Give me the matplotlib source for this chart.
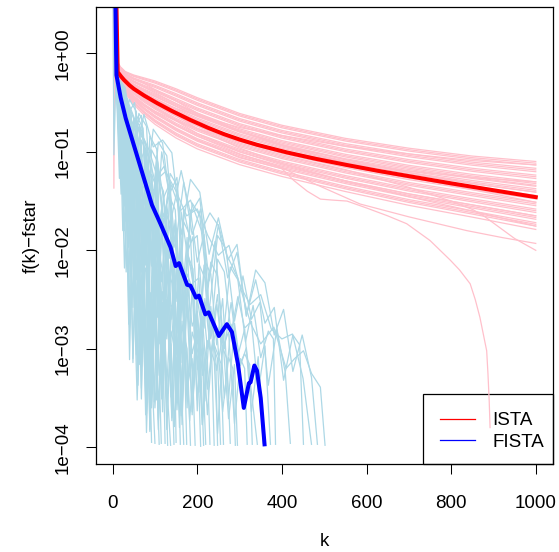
import matplotlib
matplotlib.use("Agg")
import matplotlib.pyplot as plt
from matplotlib.patches import Rectangle
from matplotlib.ticker import NullLocator, FixedLocator

plt.rcParams['font.family'] = ['Liberation Sans', 'DejaVu Sans']

# ---- data (values are log10 of f(k)-fstar) ----
ista_k = [0, 10, 18, 30, 50, 75, 100, 150, 200, 300, 400, 550, 700, 850, 1000]
ista_logf = [
    [2.5, -0.07, -0.135, -0.185, -0.22, -0.25, -0.28, -0.36, -0.45, -0.61, -0.73, -0.863, -0.963, -1.043, -1.098],
    [2.5, -0.075, -0.14, -0.19, -0.228, -0.26, -0.291, -0.373, -0.463, -0.623, -0.743, -0.877, -0.978, -1.059, -1.115],
    [2.5, -0.08, -0.145, -0.196, -0.235, -0.269, -0.302, -0.385, -0.476, -0.636, -0.756, -0.89, -0.992, -1.074, -1.133],
    [2.5, -0.09, -0.155, -0.207, -0.25, -0.288, -0.324, -0.41, -0.502, -0.662, -0.782, -0.917, -1.021, -1.105, -1.167],
    [2.5, -0.095, -0.16, -0.213, -0.258, -0.298, -0.335, -0.423, -0.515, -0.675, -0.795, -0.931, -1.036, -1.121, -1.184],
    [2.5, -0.10, -0.165, -0.218, -0.265, -0.307, -0.346, -0.435, -0.528, -0.688, -0.808, -0.944, -1.05, -1.136, -1.202],
    [2.5, -0.11, -0.175, -0.229, -0.28, -0.326, -0.368, -0.46, -0.554, -0.714, -0.834, -0.971, -1.079, -1.167, -1.236],
    [2.5, -0.115, -0.18, -0.235, -0.288, -0.336, -0.379, -0.473, -0.567, -0.727, -0.847, -0.985, -1.094, -1.183, -1.253],
    [2.5, -0.12, -0.185, -0.24, -0.295, -0.345, -0.39, -0.485, -0.58, -0.74, -0.86, -0.998, -1.108, -1.198, -1.271],
    [2.5, -0.13, -0.195, -0.251, -0.31, -0.364, -0.412, -0.51, -0.606, -0.766, -0.886, -1.025, -1.137, -1.229, -1.305],
    [2.5, -0.135, -0.20, -0.257, -0.318, -0.374, -0.423, -0.523, -0.619, -0.779, -0.899, -1.039, -1.152, -1.245, -1.322],
    [2.5, -0.14, -0.205, -0.262, -0.325, -0.383, -0.434, -0.535, -0.632, -0.792, -0.912, -1.052, -1.166, -1.26, -1.34],
    [2.5, -0.15, -0.215, -0.273, -0.34, -0.402, -0.456, -0.56, -0.658, -0.818, -0.938, -1.079, -1.195, -1.291, -1.374],
    [2.5, -0.155, -0.22, -0.279, -0.348, -0.412, -0.467, -0.573, -0.671, -0.831, -0.951, -1.093, -1.21, -1.307, -1.391],
    [2.5, -0.16, -0.225, -0.284, -0.355, -0.421, -0.478, -0.585, -0.684, -0.844, -0.964, -1.106, -1.224, -1.322, -1.409],
    [2.5, -0.17, -0.235, -0.295, -0.37, -0.44, -0.50, -0.61, -0.71, -0.87, -0.99, -1.133, -1.253, -1.353, -1.443],
    [2.5, -0.175, -0.24, -0.301, -0.378, -0.45, -0.511, -0.623, -0.723, -0.883, -1.003, -1.147, -1.268, -1.369, -1.46],
    [2.5, -0.18, -0.245, -0.306, -0.385, -0.459, -0.522, -0.635, -0.736, -0.896, -1.016, -1.16, -1.282, -1.384, -1.478],
    [2.5, -0.19, -0.255, -0.317, -0.40, -0.478, -0.544, -0.66, -0.762, -0.922, -1.042, -1.187, -1.311, -1.415, -1.512],
    [2.5, -0.195, -0.26, -0.323, -0.408, -0.488, -0.555, -0.673, -0.775, -0.935, -1.055, -1.201, -1.326, -1.431, -1.529],
    [2.5, -0.20, -0.265, -0.328, -0.415, -0.497, -0.566, -0.685, -0.788, -0.948, -1.068, -1.214, -1.34, -1.446, -1.547],
    [2.5, -0.21, -0.275, -0.339, -0.43, -0.516, -0.588, -0.71, -0.814, -0.974, -1.094, -1.241, -1.369, -1.477, -1.581],
    [2.5, -0.215, -0.28, -0.345, -0.438, -0.526, -0.599, -0.723, -0.827, -0.987, -1.107, -1.255, -1.384, -1.493, -1.598],
    [2.5, -0.22, -0.285, -0.35, -0.445, -0.535, -0.61, -0.735, -0.84, -1.00, -1.12, -1.268, -1.398, -1.508, -1.616],
    [2.5, -0.23, -0.295, -0.361, -0.46, -0.554, -0.632, -0.76, -0.866, -1.026, -1.146, -1.295, -1.427, -1.539, -1.65],
    [2.5, -0.235, -0.30, -0.367, -0.468, -0.564, -0.643, -0.773, -0.879, -1.039, -1.159, -1.309, -1.442, -1.555, -1.667],
    [2.5, -0.24, -0.305, -0.372, -0.475, -0.573, -0.654, -0.785, -0.892, -1.052, -1.172, -1.322, -1.456, -1.57, -1.685],
    [2.5, -0.25, -0.315, -0.383, -0.49, -0.592, -0.676, -0.81, -0.918, -1.078, -1.198, -1.349, -1.485, -1.601, -1.719],
    [2.5, -0.255, -0.32, -0.389, -0.498, -0.602, -0.687, -0.823, -0.931, -1.091, -1.211, -1.363, -1.50, -1.617, -1.736],
    [2.5, -0.26, -0.325, -0.394, -0.505, -0.611, -0.698, -0.835, -0.944, -1.104, -1.224, -1.376, -1.514, -1.632, -1.754],
    [2.5, -0.27, -0.335, -0.405, -0.52, -0.63, -0.72, -0.86, -0.97, -1.13, -1.25, -1.403, -1.543, -1.663, -1.788],
    [2.5, -0.09, -0.155, -0.207, -0.258, -0.307, -0.368, -0.485, -0.606, -0.792, -0.938, -1.106, -1.253, -1.384, -1.512],
    [2.5, -0.25, -0.315, -0.372, -0.46, -0.535, -0.588, -0.685, -0.762, -0.896, -0.99, -1.106, -1.195, -1.26, -1.305],
    [2.5, -0.14, -0.205, -0.262, -0.34, -0.421, -0.50, -0.635, -0.762, -0.961, -1.12, -1.295, -1.456, -1.601, -1.754],
    [2.5, -0.20, -0.265, -0.317, -0.385, -0.44, -0.478, -0.56, -0.632, -0.753, -0.834, -0.944, -1.021, -1.089, -1.133],
    [2.5, -0.17, -0.235, -0.295, -0.37, -0.459, -0.544, -0.685, -0.814, -1.00, -1.133, -1.295, -1.427, -1.539, -1.65],
    [2.5, -0.11, -0.175, -0.229, -0.288, -0.345, -0.401, -0.51, -0.619, -0.792, -0.925, -1.079, -1.21, -1.322, -1.409],
]

# ISTA runs that leave the band
ista_spike_k = [0, 3, 6, 10, 18, 30, 50, 75, 100, 150, 200, 300, 400, 550, 700, 850, 1000]
ista_spike_logf = [2.5, -1.37, 1.0, -0.14, -0.205, -0.262, -0.33, -0.39, -0.44, -0.54, -0.64, -0.80,
                   -0.93, -1.07, -1.18, -1.27, -1.35]
ista_dive_k = [0, 10, 18, 30, 50, 75, 100, 150, 200, 300, 400, 428, 460, 491, 520, 554, 600, 650,
               695, 750, 798, 820, 845, 857, 868, 876, 884, 887, 890, 892]
ista_dive_logf = [2.5, -0.24, -0.30, -0.36, -0.47, -0.56, -0.64, -0.77, -0.88, -1.06, -1.17, -1.29,
                  -1.40, -1.48, -1.49, -1.50, -1.57, -1.65, -1.73, -1.90, -2.10, -2.20, -2.34, -2.50,
                  -2.68, -2.85, -3.02, -3.25, -3.53, -3.80]
ista_low1_k = [0, 10, 18, 30, 50, 75, 100, 150, 200, 300, 400, 480, 585, 700, 837, 920, 1000]
ista_low1_logf = [2.5, -0.23, -0.295, -0.35, -0.45, -0.53, -0.61, -0.73, -0.84, -1.02, -1.16, -1.33,
                  -1.53, -1.66, -1.80, -1.87, -1.93]
ista_low2_k = [0, 10, 18, 30, 50, 75, 100, 150, 200, 300, 400, 550, 700, 800, 853, 880, 950, 1000]
ista_low2_logf = [2.5, -0.20, -0.265, -0.32, -0.40, -0.47, -0.53, -0.64, -0.74, -0.91, -1.03, -1.18,
                  -1.36, -1.50, -1.59, -1.66, -1.88, -2.00]

ista_mean_k = [0, 12, 20, 27, 40, 50, 75, 105, 140, 184, 225, 263, 300, 341, 412, 480, 554, 630,
               711, 800, 900, 1000]
ista_mean_logf = [2.5, -0.19, -0.235, -0.27, -0.325, -0.36, -0.43, -0.505, -0.585, -0.677, -0.755,
                  -0.82, -0.875, -0.928, -1.006, -1.071, -1.134, -1.195, -1.255, -1.32, -1.39, -1.46]

fista_k = [
    [0, 3, 8, 18, 28, 38, 48, 58, 68, 78, 86, 92],
    [0, 8, 18, 28, 38, 48, 58, 68, 78, 88, 98, 104, 110],
    [0, 8, 16, 24, 32, 40, 50, 60, 70, 80, 90, 100, 110, 118, 124],
    [0, 8, 18, 28, 38, 48, 58, 68, 78, 88, 98, 108, 118, 128, 137],
    [0, 8, 18, 28, 38, 48, 58, 68, 78, 88, 98, 108, 118, 128, 138, 146, 150],
    [0, 8, 18, 28, 38, 48, 58, 68, 78, 88, 98, 108, 118, 128, 138, 148, 158, 168],
    [0, 8, 18, 28, 38, 48, 58, 68, 78, 88, 98, 108, 118, 128, 138, 148, 158, 168, 176, 184],
    [0, 8, 18, 28, 38, 48, 58, 68, 78, 88, 98, 110, 122, 134, 146, 158, 170, 182, 194, 202, 208],
    [0, 8, 20, 32, 44, 56, 68, 80, 92, 104, 116, 128, 140, 152, 164, 176, 188, 200, 212, 224, 230],
    [0, 8, 20, 32, 44, 56, 68, 80, 92, 104, 116, 128, 140, 152, 164, 176, 188, 200, 212, 224, 236, 244, 248],
    [0, 8, 20, 32, 44, 56, 68, 80, 92, 104, 116, 128, 140, 152, 164, 176, 188, 200, 212, 224, 236, 248, 256, 262],
    [0, 8, 20, 32, 44, 56, 68, 80, 92, 104, 116, 128, 140, 152, 164, 176, 188, 200, 212, 224, 236, 248, 260, 270, 278],
    [0, 8, 22, 36, 50, 64, 78, 92, 106, 120, 134, 148, 162, 176, 190, 204, 218, 232, 246, 260, 274, 288, 295],
    [0, 8, 22, 36, 50, 64, 78, 92, 106, 120, 134, 148, 162, 176, 190, 204, 218, 232, 246, 260, 274, 288, 302, 312, 318],
    [0, 8, 22, 36, 50, 64, 78, 92, 106, 120, 134, 148, 162, 176, 190, 204, 218, 232, 246, 260, 274, 288, 302, 316, 330, 342],
    [0, 8, 24, 40, 56, 72, 88, 104, 120, 136, 152, 168, 184, 200, 216, 232, 248, 264, 280, 296, 312, 328, 344, 356],
    [0, 8, 24, 40, 56, 72, 88, 104, 120, 136, 152, 168, 184, 200, 216, 232, 248, 264, 280, 296, 312, 328, 344, 360, 373],
    [0, 8, 26, 44, 62, 80, 98, 116, 134, 152, 170, 188, 206, 224, 242, 260, 278, 296, 314, 332, 350, 368, 380, 385],
    [0, 8, 28, 48, 68, 88, 108, 128, 148, 168, 188, 208, 228, 248, 268, 288, 308, 328, 348, 368, 388, 408, 420],
    [0, 8, 30, 52, 74, 96, 118, 140, 162, 184, 206, 228, 250, 272, 294, 316, 338, 360, 382, 404, 426, 442, 451],
    [0, 8, 30, 52, 74, 96, 118, 140, 162, 184, 206, 228, 250, 272, 294, 316, 338, 360, 382, 404, 426, 448, 470, 484],
    [0, 8, 30, 55, 86, 105, 121, 137, 160, 184, 210, 230, 250, 270, 295, 310, 326, 350, 381, 410, 430, 451, 470, 491, 502],
    [0, 8, 16, 24, 32, 40, 48, 56, 64, 72, 80, 88, 94, 100],
    [0, 8, 18, 28, 38, 48, 58, 68, 78, 88, 98, 108, 118, 124, 130],
    [0, 8, 18, 28, 38, 48, 58, 68, 78, 88, 98, 108, 118, 128, 138, 148, 154, 160],
    [0, 8, 20, 32, 44, 56, 68, 80, 92, 104, 116, 128, 140, 152, 164, 176, 188, 195],
    [0, 8, 20, 32, 44, 56, 68, 80, 92, 104, 116, 128, 140, 152, 164, 176, 188, 200, 212, 220],
    [0, 8, 20, 32, 44, 56, 68, 80, 92, 104, 116, 128, 140, 152, 164, 176, 188, 200, 212, 224, 234, 240],
    [0, 8, 16, 24, 32, 40, 50, 60, 70, 80, 90, 100, 108, 115],
    [0, 8, 18, 28, 38, 48, 58, 68, 78, 88, 98, 108, 118, 128, 138, 145],
    [0, 8, 20, 32, 44, 56, 68, 80, 92, 104, 116, 128, 140, 152, 164, 170, 175],
    [0, 8, 20, 32, 44, 56, 68, 80, 92, 104, 116, 128, 140, 152, 164, 176, 188, 200, 208, 215],
    [0, 8, 20, 32, 44, 56, 68, 80, 92, 104, 116, 128, 140, 152, 164, 176, 188, 200, 212, 224, 236, 248, 255],
    [0, 8, 22, 36, 50, 64, 78, 92, 106, 120, 134, 148, 162, 176, 190, 204, 218, 232, 246, 260, 274, 284, 290],
    [0, 8, 24, 40, 56, 72, 88, 104, 120, 136, 152, 168, 184, 200, 216, 232, 248, 264, 280, 296, 312, 324, 330],
    [0, 8, 30, 55, 80, 100, 125, 150, 175, 200, 225, 250, 275, 300, 325, 350, 375, 400, 425, 450, 470],
]
fista_logf = [
    [1.5, -1.03, -0.22, -0.56, -1.80, -1.24, -1.98, -3.52, -2.26, -3.50, -2.87, -3.95],
    [1.5, -0.22, -1.00, -0.78, -1.06, -3.14, -1.62, -2.30, -2.18, -3.66, -2.74, -3.21, -3.97],
    [1.5, -0.22, -0.41, -1.80, -0.80, -1.29, -1.23, -3.37, -1.71, -2.15, -3.49, -2.43, -3.27, -2.86, -3.96],
    [1.5, -0.22, -1.14, -0.66, -0.88, -3.10, -1.42, -1.54, -2.76, -1.98, -2.20, -3.82, -2.64, -3.36, -3.98],
    [1.5, -0.22, -0.42, -0.92, -2.32, -1.02, -1.22, -2.22, -1.62, -3.82, -2.02, -2.52, -2.42, -3.82, -2.82, -2.98, -3.95],
    [1.5, -0.22, -0.40, -0.58, -1.36, -0.94, -3.22, -1.30, -1.88, -1.66, -3.54, -2.02, -2.20, -3.38, -2.56, -3.24, -2.92, -3.97],
    [1.5, -0.22, -0.59, -1.55, -0.72, -0.88, -1.35, -3.51, -1.38, -1.54, -2.61, -1.87, -3.64, -2.20, -2.57, -2.53, -3.80, -2.86, -3.00, -3.98],
    [1.5, -0.22, -0.37, -0.52, -1.97, -0.82, -0.97, -1.62, -3.67, -1.42, -1.57, -2.95, -1.93, -2.51, -3.79, -2.47, -2.65, -3.73, -3.01, -3.13, -3.99],
    [1.5, -0.22, -1.28, -0.54, -0.71, -2.67, -1.03, -1.49, -1.35, -3.52, -1.68, -1.84, -2.70, -2.16, -3.63, -2.49, -3.05, -2.81, -3.77, -3.13, -3.97],
    [1.5, -0.22, -0.37, -0.92, -2.27, -0.82, -0.97, -3.32, -1.27, -1.92, -1.57, -2.82, -1.87, -2.02, -3.77, -2.32, -2.77, -2.62, -3.77, -2.92, -3.07, -3.17, -3.98],
    [1.5, -0.22, -0.36, -0.50, -1.54, -0.79, -3.03, -1.07, -1.41, -1.35, -2.99, -1.64, -1.78, -2.52, -2.06, -3.60, -2.34, -2.49, -2.83, -3.67, -2.91, -3.05, -3.15, -3.97],
    [1.5, -0.22, -0.95, -0.48, -0.62, -2.65, -0.88, -1.01, -2.14, -1.28, -3.51, -1.54, -1.97, -1.80, -3.14, -2.07, -2.20, -3.63, -2.46, -3.00, -2.73, -3.86, -2.99, -3.10, -3.96],
    [1.5, -0.22, -0.37, -1.71, -0.66, -1.11, -0.96, -3.00, -1.25, -1.40, -2.34, -1.69, -3.44, -1.98, -2.33, -2.28, -3.53, -2.57, -3.22, -2.87, -3.71, -3.16, -3.98],
    [1.5, -0.22, -0.86, -0.49, -2.33, -0.77, -0.91, -1.64, -1.18, -3.32, -1.45, -1.59, -2.63, -1.87, -3.50, -2.14, -2.28, -3.12, -2.55, -2.99, -2.83, -3.76, -3.10, -3.20, -3.97],
    [1.5, -0.22, -0.35, -0.47, -1.00, -0.72, -2.15, -0.98, -1.10, -1.73, -1.35, -3.18, -1.61, -2.03, -1.86, -2.98, -2.11, -2.24, -2.96, -2.49, -3.51, -2.74, -3.17, -2.99, -3.52, -3.97],
    [1.5, -0.22, -0.36, -0.99, -0.63, -0.76, -2.00, -1.04, -1.47, -1.31, -2.84, -1.58, -1.92, -1.85, -2.79, -2.12, -2.26, -3.00, -2.53, -3.07, -2.80, -3.64, -3.08, -3.96],
    [1.5, -0.22, -0.74, -0.47, -0.59, -2.32, -0.84, -0.97, -1.79, -1.22, -1.34, -2.67, -1.59, -2.12, -1.84, -2.87, -2.09, -2.22, -2.84, -2.47, -2.79, -2.72, -3.44, -2.97, -3.97],
    [1.5, -0.22, -0.35, -1.28, -0.61, -0.74, -2.17, -1.00, -1.43, -1.26, -2.39, -1.52, -1.65, -2.38, -1.91, -2.94, -2.17, -2.30, -2.93, -2.56, -3.09, -2.82, -2.90, -3.97],
    [1.5, -0.22, -0.36, -0.79, -0.63, -1.86, -0.90, -1.04, -1.97, -1.31, -1.84, -1.58, -2.62, -1.85, -1.99, -2.72, -2.26, -2.70, -2.53, -3.37, -2.80, -3.24, -3.96],
    [1.5, -0.22, -0.66, -0.50, -1.54, -0.77, -0.91, -1.65, -1.19, -1.63, -1.47, -2.31, -1.74, -2.28, -2.02, -2.66, -2.30, -2.74, -2.58, -3.32, -2.86, -2.96, -3.97],
    [1.5, -0.22, -0.35, -1.08, -0.62, -0.95, -0.88, -1.01, -1.84, -1.28, -1.41, -2.04, -1.67, -2.10, -1.94, -2.67, -2.20, -2.33, -2.86, -2.60, -3.23, -2.86, -3.29, -3.97],
    [1.5, -0.22, -0.42, -0.70, -0.98, -1.25, -1.15, -1.32, -1.60, -1.49, -1.80, -1.62, -1.75, -2.05, -2.27, -2.50, -2.74, -2.95, -2.78, -3.20, -3.10, -3.02, -3.25, -3.39, -3.98],
    [1.5, -0.22, -1.27, -0.72, -1.16, -3.11, -1.46, -1.71, -3.16, -2.20, -3.85, -2.70, -3.39, -3.96],
    [1.5, -0.22, -0.45, -2.18, -0.91, -1.44, -1.37, -3.40, -1.83, -2.56, -2.29, -3.72, -2.75, -2.89, -3.98],
    [1.5, -0.22, -0.71, -0.60, -0.79, -2.58, -1.17, -1.76, -1.55, -3.84, -1.93, -2.12, -3.31, -2.50, -3.49, -2.88, -3.00, -3.97],
    [1.5, -0.22, -0.41, -1.70, -0.80, -0.99, -3.18, -1.37, -2.16, -1.76, -3.35, -2.14, -2.33, -3.62, -2.72, -3.41, -3.10, -3.98],
    [1.5, -0.22, -0.39, -0.56, -2.12, -0.89, -1.36, -1.23, -3.60, -1.56, -1.73, -2.90, -2.07, -3.54, -2.40, -2.57, -3.64, -2.91, -3.08, -3.97],
    [1.5, -0.22, -0.57, -2.22, -0.67, -0.82, -1.77, -1.12, -1.27, -3.42, -1.57, -2.12, -1.87, -3.52, -2.17, -2.32, -3.67, -2.62, -3.27, -2.92, -3.05, -3.98],
    [1.5, -0.22, -0.44, -1.25, -0.87, -2.78, -1.35, -2.12, -1.89, -3.66, -2.43, -3.60, -2.92, -3.96],
    [1.5, -0.22, -0.43, -0.64, -2.75, -1.06, -1.67, -1.48, -3.09, -1.90, -2.11, -3.62, -2.53, -3.54, -2.95, -3.97],
    [1.5, -0.22, -1.43, -0.64, -1.05, -3.06, -1.27, -1.48, -3.19, -1.90, -2.51, -2.32, -3.73, -2.74, -2.95, -3.06, -3.97],
    [1.5, -0.22, -0.39, -1.27, -0.74, -0.92, -2.89, -1.26, -1.74, -1.61, -3.39, -1.96, -2.13, -3.51, -2.48, -3.46, -2.83, -3.01, -3.12, -3.98],
    [1.5, -0.22, -0.66, -0.51, -0.65, -2.30, -0.94, -3.38, -1.23, -1.37, -2.32, -1.66, -3.70, -1.95, -2.59, -2.24, -2.38, -3.52, -2.67, -3.41, -2.96, -3.10, -3.97],
    [1.5, -0.22, -0.37, -1.12, -0.67, -3.02, -0.98, -1.13, -2.68, -1.43, -2.08, -1.73, -3.68, -2.03, -2.19, -3.44, -2.49, -3.04, -2.79, -3.64, -3.09, -3.20, -3.98],
    [1.5, -0.22, -0.37, -1.82, -0.67, -0.82, -2.86, -1.11, -1.66, -1.41, -3.06, -1.71, -1.86, -3.21, -2.15, -2.90, -2.45, -3.50, -2.75, -3.20, -3.05, -3.16, -3.97],
    [1.5, -0.22, -0.45, -0.72, -0.95, -1.30, -1.20, -1.40, -1.65, -1.58, -1.85, -2.05, -1.95, -2.35, -2.55, -2.45, -2.80, -2.90, -2.85, -3.30, -3.97],
]

fista_mean_k = [0, 9, 19, 31, 50, 74, 93, 113, 137, 149, 157, 176, 184, 197, 204, 219, 227,
                251, 270, 282, 296, 310, 322, 326, 335, 341, 350, 359]
fista_mean_logf = [2.5, -0.22, -0.45, -0.66, -0.93, -1.27, -1.54, -1.73, -1.97, -2.16, -2.13,
                   -2.35, -2.36, -2.48, -2.46, -2.65, -2.63, -2.87, -2.75, -2.83, -3.15, -3.60,
                   -3.35, -3.34, -3.17, -3.22, -3.50, -3.97]

x_ticks = [0, 200, 400, 600, 800, 1000]
y_ticks = [1e0, 1e-1, 1e-2, 1e-3, 1e-4]
y_tick_labels = ["1e+00", "1e\u221201", "1e\u221202", "1e\u221203", "1e\u221204"]


def pw(v):
    return [10 ** x for x in v]


fig = plt.figure(figsize=(5.59, 5.52), dpi=100)
ax = fig.add_axes([0.1712, 0.1594, 0.8175, 0.8285])

for row in ista_logf:
    ax.plot(ista_k, pw(row), color="pink", lw=0.9)
for kk, vv in [(ista_spike_k, ista_spike_logf), (ista_dive_k, ista_dive_logf),
               (ista_low1_k, ista_low1_logf), (ista_low2_k, ista_low2_logf)]:
    ax.plot(kk, pw(vv), color="pink", lw=0.9)

for kk, vv in zip(fista_k, fista_logf):
    ax.plot(kk, pw(vv), color="lightblue", lw=0.9)

ax.plot(ista_mean_k, pw(ista_mean_logf), color="red", lw=2.9)
ax.plot(fista_mean_k, pw(fista_mean_logf), color="blue", lw=2.9)

ax.set_yscale("log")
ax.set_xlim(-40, 1040)
ax.set_ylim(10 ** -4.17, 10 ** 0.474)
ax.xaxis.set_major_locator(FixedLocator(x_ticks))
ax.set_xticklabels([str(t) for t in x_ticks])
ax.yaxis.set_major_locator(FixedLocator(y_ticks))
ax.yaxis.set_minor_locator(NullLocator())
ax.set_yticklabels(y_tick_labels, rotation=90, va="center")
ax.tick_params(direction="out", length=7.5, width=0.75, labelsize=13.5)
ax.tick_params(axis="x", pad=15)
ax.tick_params(axis="y", pad=10)
for s in ax.spines.values():
    s.set_linewidth(0.9)

ax.set_xlabel("k", fontsize=13.5, labelpad=15)
ax.set_ylabel("f(k)\u2212fstar", fontsize=13.5, labelpad=10.5)

# legend: transparent box like R's legend(), frame drawn as a rectangle
h1, = ax.plot([], [], color="red", lw=0.9)
h2, = ax.plot([], [], color="blue", lw=0.9)
ax.legend([h1, h2], ["ISTA", "FISTA"], loc="lower right", fontsize=13.5,
          bbox_to_anchor=(0.981, 0.0284), borderaxespad=0, borderpad=0, frameon=False,
          handlelength=1.9, handletextpad=0.9, labelspacing=0.25)
ax.add_patch(Rectangle((0.716, 0.0), 0.284, 0.153, transform=ax.transAxes, fill=False,
                       edgecolor="black", lw=0.9, clip_on=False))

fig.savefig("out.png", dpi=100)
